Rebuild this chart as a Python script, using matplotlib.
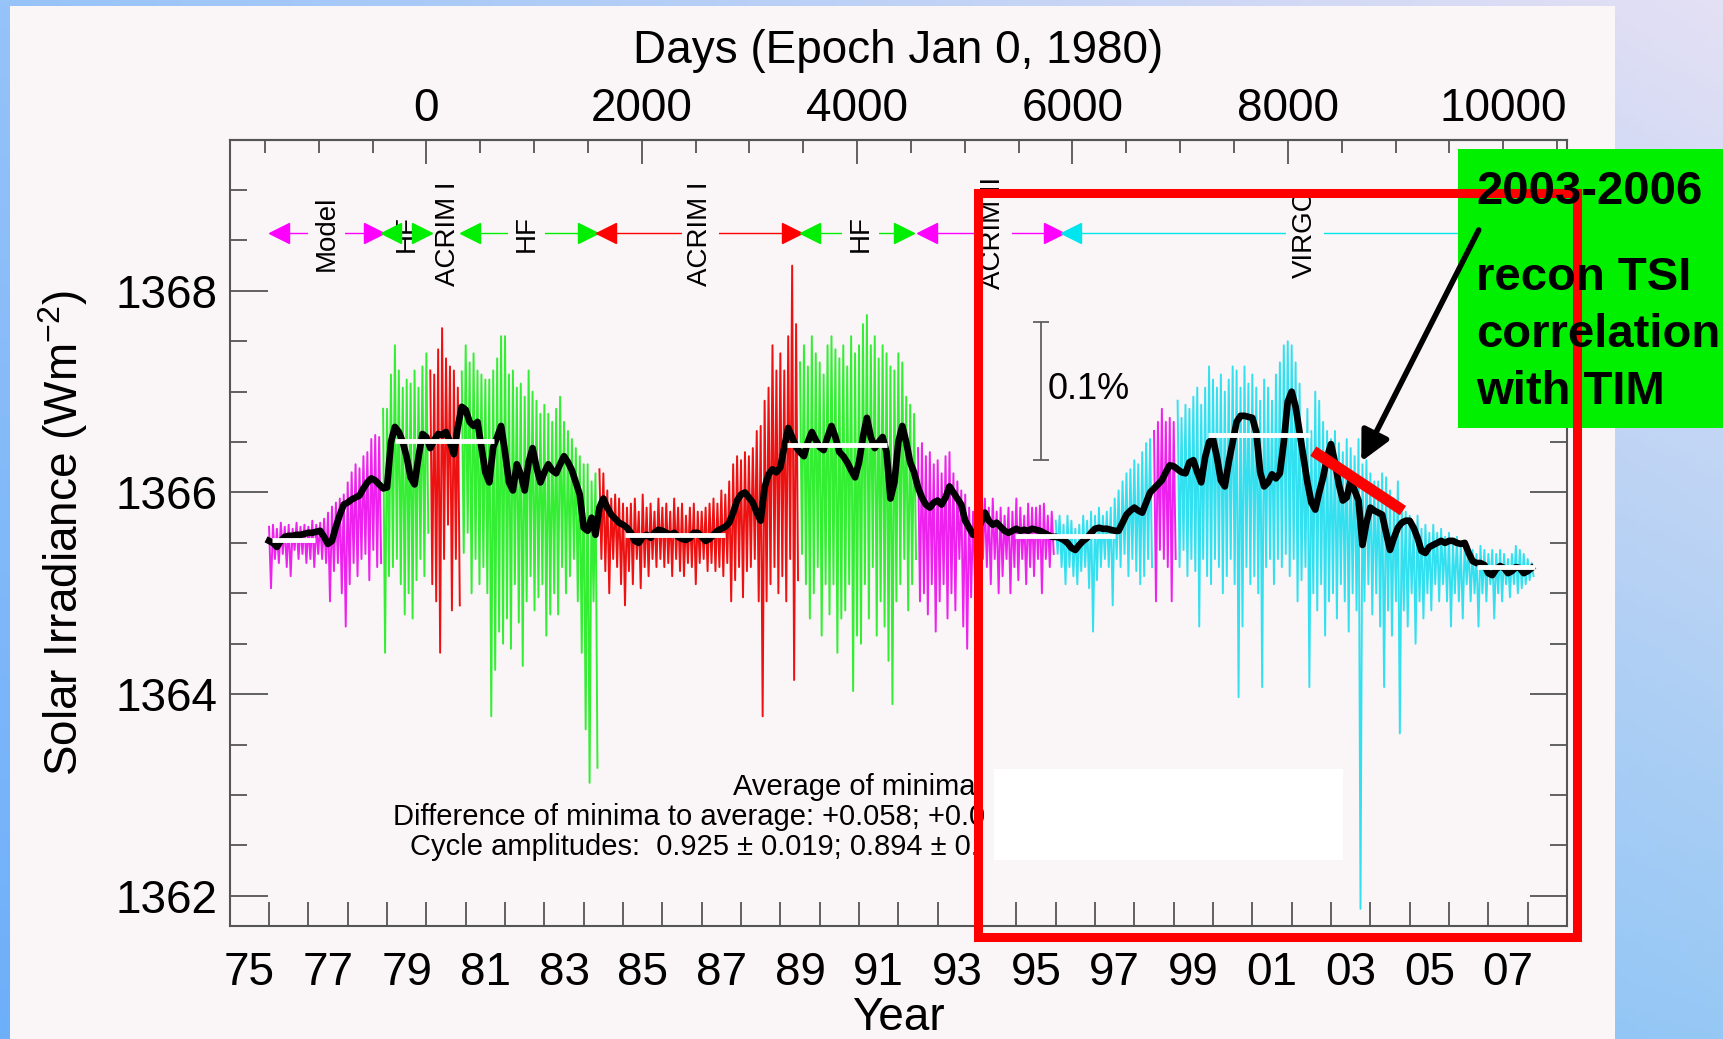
import numpy as np
import matplotlib.pyplot as plt
from matplotlib.patches import Rectangle, FancyArrowPatch

plt.rcParams['font.family'] = ['Liberation Sans', 'DejaVu Sans']
plt.rcParams['mathtext.fontset'] = 'custom'
plt.rcParams['mathtext.rm'] = 'Liberation Sans'
plt.rcParams['mathtext.it'] = 'Liberation Sans:italic'

# --- data (grid: 1976.0 .. 2008.1, step 0.1 yr) ---
first_year = 1976.0
step = 0.1

# upper tips of the daily values
tsi_hi = [
    1365.66, 1365.68, 1365.64, 1365.70, 1365.66, 1365.68, 1365.64, 1365.70, 1365.66, 1365.68,
    1365.66, 1365.72, 1365.68, 1365.70, 1365.74, 1365.80, 1365.86, 1365.90, 1365.94, 1365.98,
    1366.10, 1366.20, 1366.28, 1366.24, 1366.36, 1366.40, 1366.53, 1366.57, 1366.55, 1366.83,
    1366.83, 1367.17, 1367.46, 1367.21, 1367.04, 1367.12, 1367.08, 1367.21, 1367.04, 1367.25,
    1367.38, 1367.21, 1367.17, 1367.42, 1367.63, 1367.33, 1367.25, 1367.21, 1367.04, 1367.20,
    1367.46, 1367.29, 1367.38, 1367.21, 1367.17, 1367.12, 1367.12, 1367.21, 1367.33, 1367.55,
    1367.55, 1367.17, 1367.21, 1367.04, 1367.08, 1366.95, 1367.21, 1367.00, 1366.91, 1366.78,
    1366.87, 1366.78, 1366.70, 1366.83, 1366.95, 1366.70, 1366.61, 1366.53, 1366.44, 1366.36,
    1366.28, 1366.28, 1366.11, 1366.19, 1366.23, 1366.19, 1366.02, 1365.94, 1365.98, 1365.94,
    1365.89, 1365.85, 1365.89, 1365.94, 1365.81, 1365.98, 1365.85, 1365.89, 1365.81, 1365.94,
    1365.85, 1365.89, 1365.81, 1365.94, 1365.85, 1365.89, 1365.77, 1365.85, 1365.89, 1365.81,
    1365.81, 1365.85, 1365.89, 1365.94, 1365.89, 1366.02, 1365.98, 1366.11, 1366.28, 1366.36,
    1366.32, 1366.40, 1366.36, 1366.44, 1366.61, 1366.66, 1366.91, 1367.04, 1367.46, 1367.21,
    1367.38, 1367.21, 1367.55, 1368.25, 1367.67, 1367.29, 1367.46, 1367.25, 1367.55, 1367.38,
    1367.29, 1367.17, 1367.46, 1367.55, 1367.42, 1367.33, 1367.46, 1367.25, 1367.55, 1367.38,
    1367.46, 1367.67, 1367.76, 1367.46, 1367.55, 1367.33, 1367.46, 1367.38, 1367.25, 1367.21,
    1367.38, 1367.29, 1366.95, 1366.87, 1366.78, 1366.44, 1366.49, 1366.36, 1366.40, 1366.28,
    1366.32, 1366.19, 1366.36, 1366.40, 1366.19, 1366.11, 1366.02, 1365.98, 1365.85, 1365.81,
    1365.85, 1365.94, 1365.94, 1365.85, 1365.94, 1365.81, 1365.85, 1365.77, 1365.85, 1365.81,
    1365.94, 1365.85, 1365.77, 1365.89, 1365.85, 1365.85, 1365.87, 1365.89, 1365.77, 1365.81,
    1365.72, 1365.77, 1365.68, 1365.77, 1365.72, 1365.64, 1365.68, 1365.77, 1365.72, 1365.81,
    1365.77, 1365.85, 1365.77, 1365.81, 1365.85, 1365.94, 1366.02, 1366.11, 1366.19, 1366.23,
    1366.32, 1366.28, 1366.40, 1366.49, 1366.53, 1366.61, 1366.70, 1366.83, 1366.70, 1366.74,
    1366.70, 1366.91, 1366.74, 1366.87, 1366.83, 1366.95, 1367.04, 1366.87, 1367.04, 1367.25,
    1367.12, 1367.04, 1367.17, 1367.00, 1367.12, 1367.25, 1367.21, 1367.04, 1367.25, 1367.08,
    1367.17, 1367.04, 1366.91, 1367.12, 1367.04, 1366.91, 1367.17, 1367.29, 1367.46, 1367.50,
    1367.46, 1367.29, 1367.08, 1366.53, 1366.83, 1366.61, 1367.00, 1366.91, 1366.70, 1366.61,
    1366.53, 1366.61, 1366.49, 1366.40, 1366.53, 1366.44, 1366.36, 1366.53, 1366.28, 1366.32,
    1366.19, 1366.11, 1366.11, 1366.19, 1366.15, 1366.02, 1365.94, 1366.11, 1365.85, 1365.81,
    1365.77, 1365.68, 1365.77, 1365.64, 1365.68, 1365.60, 1365.68, 1365.60, 1365.64, 1365.56,
    1365.60, 1365.51, 1365.56, 1365.47, 1365.51, 1365.47, 1365.43, 1365.39, 1365.47, 1365.43,
    1365.39, 1365.43, 1365.39, 1365.43, 1365.39, 1365.34, 1365.39, 1365.47, 1365.43, 1365.39,
    1365.34, 1365.30,
]

# lower tips of the daily values (sunspot dips)
tsi_lo = [
    1365.05, 1365.34, 1365.30, 1365.39, 1365.26, 1365.17, 1365.43, 1365.34, 1365.39, 1365.30,
    1365.34, 1365.26, 1365.39, 1365.34, 1365.30, 1364.92, 1365.22, 1365.30, 1365.00, 1364.67,
    1365.09, 1365.30, 1365.17, 1365.34, 1365.39, 1365.13, 1365.43, 1365.26, 1365.30, 1364.41,
    1365.17, 1365.26, 1365.34, 1365.09, 1364.79, 1365.00, 1364.75, 1365.13, 1365.34, 1365.17,
    1365.60, 1365.09, 1364.92, 1364.41, 1365.34, 1365.68, 1364.83, 1365.34, 1364.88, 1365.40,
    1365.60, 1365.00, 1365.34, 1365.09, 1365.26, 1365.00, 1363.78, 1364.24, 1364.62, 1364.50,
    1364.75, 1364.45, 1365.09, 1364.71, 1364.28, 1364.92, 1365.17, 1364.83, 1364.96, 1365.09,
    1364.58, 1364.79, 1365.00, 1364.79, 1365.26, 1365.00, 1365.17, 1365.34, 1364.92, 1364.41,
    1363.65, 1363.12, 1364.92, 1363.27, 1365.34, 1365.22, 1365.00, 1365.34, 1365.26, 1365.09,
    1364.88, 1365.22, 1365.09, 1365.34, 1365.05, 1365.26, 1365.17, 1365.34, 1365.26, 1365.34,
    1365.26, 1365.30, 1365.17, 1365.34, 1365.22, 1365.17, 1365.30, 1365.26, 1365.09, 1365.30,
    1365.34, 1365.22, 1365.30, 1365.22, 1365.26, 1365.17, 1365.30, 1364.92, 1365.13, 1365.26,
    1364.96, 1365.22, 1365.26, 1365.34, 1364.92, 1363.78, 1364.92, 1365.09, 1365.26, 1365.00,
    1365.17, 1364.92, 1365.34, 1364.14, 1365.13, 1365.39, 1365.09, 1364.75, 1365.00, 1365.26,
    1364.58, 1365.09, 1364.79, 1365.09, 1364.41, 1364.75, 1364.83, 1365.09, 1364.03, 1364.58,
    1364.50, 1365.09, 1364.75, 1365.26, 1364.58, 1364.92, 1364.67, 1364.33, 1363.90, 1364.92,
    1365.09, 1365.34, 1364.83, 1365.09, 1365.34, 1364.92, 1365.00, 1364.79, 1365.09, 1364.62,
    1364.92, 1365.09, 1364.75, 1365.00, 1364.83, 1365.34, 1364.67, 1364.45, 1364.96, 1365.09,
    1364.92, 1365.34, 1365.26, 1365.09, 1365.34, 1365.00, 1365.17, 1365.34, 1365.00, 1365.26,
    1365.13, 1365.34, 1365.09, 1365.26, 1365.17, 1365.34, 1365.00, 1365.34, 1365.26, 1365.39,
    1365.39, 1365.26, 1365.09, 1365.26, 1365.17, 1365.09, 1365.22, 1365.26, 1365.05, 1364.62,
    1365.13, 1365.26, 1365.34, 1365.26, 1364.88, 1365.34, 1365.26, 1365.39, 1365.17, 1365.34,
    1365.22, 1365.09, 1365.17, 1365.34, 1365.26, 1364.92, 1365.43, 1365.34, 1365.26, 1364.92,
    1365.34, 1365.26, 1365.43, 1365.17, 1365.34, 1365.22, 1364.67, 1365.34, 1365.17, 1365.09,
    1365.34, 1365.26, 1365.00, 1365.17, 1365.34, 1365.09, 1363.97, 1364.67, 1365.26, 1365.09,
    1365.17, 1365.00, 1364.07, 1365.26, 1365.34, 1365.09, 1365.34, 1365.26, 1365.39, 1365.17,
    1365.34, 1364.92, 1365.13, 1365.26, 1364.07, 1365.00, 1364.83, 1365.09, 1364.58, 1364.92,
    1365.00, 1364.75, 1365.09, 1364.92, 1364.62, 1365.00, 1364.83, 1361.87, 1364.92, 1365.09,
    1364.79, 1365.00, 1364.67, 1364.07, 1364.83, 1364.58, 1364.92, 1363.61, 1364.83, 1364.67,
    1365.00, 1364.50, 1364.92, 1364.75, 1365.00, 1364.83, 1365.09, 1364.92, 1365.09, 1364.92,
    1364.67, 1365.00, 1364.92, 1364.75, 1365.09, 1364.92, 1365.00, 1364.67, 1365.00, 1364.92,
    1365.09, 1364.75, 1365.00, 1364.92, 1365.09, 1364.96, 1365.09, 1365.00, 1365.05, 1365.09,
    1365.13, 1365.17,
]

# smoothed composite (black curve)
tsi_smooth = [
    1365.52, 1365.50, 1365.46, 1365.52, 1365.56, 1365.57, 1365.57, 1365.58, 1365.58, 1365.59,
    1365.60, 1365.60, 1365.61, 1365.62, 1365.56, 1365.49, 1365.52, 1365.66, 1365.78, 1365.88,
    1365.90, 1365.93, 1365.95, 1365.97, 1366.04, 1366.10, 1366.14, 1366.12, 1366.08, 1366.04,
    1366.05, 1366.50, 1366.65, 1366.60, 1366.50, 1366.35, 1366.15, 1366.08, 1366.35, 1366.58,
    1366.55, 1366.44, 1366.52, 1366.58, 1366.57, 1366.60, 1366.50, 1366.38, 1366.65, 1366.85,
    1366.82, 1366.70, 1366.66, 1366.70, 1366.45, 1366.20, 1366.10, 1366.45, 1366.55, 1366.66,
    1366.40, 1366.10, 1366.02, 1366.28, 1366.18, 1366.02, 1366.30, 1366.44, 1366.25, 1366.10,
    1366.20, 1366.28, 1366.22, 1366.19, 1366.28, 1366.36, 1366.30, 1366.22, 1366.10, 1365.98,
    1365.65, 1365.62, 1365.75, 1365.58, 1365.85, 1365.94, 1365.85, 1365.78, 1365.74, 1365.70,
    1365.68, 1365.65, 1365.60, 1365.52, 1365.50, 1365.56, 1365.58, 1365.55, 1365.60, 1365.63,
    1365.62, 1365.60, 1365.58, 1365.60, 1365.56, 1365.54, 1365.53, 1365.55, 1365.60, 1365.60,
    1365.56, 1365.52, 1365.54, 1365.58, 1365.62, 1365.64, 1365.66, 1365.70, 1365.80, 1365.92,
    1365.98, 1366.00, 1365.95, 1365.90, 1365.80, 1365.72, 1366.05, 1366.18, 1366.23, 1366.20,
    1366.25, 1366.45, 1366.64, 1366.55, 1366.45, 1366.40, 1366.36, 1366.50, 1366.60, 1366.52,
    1366.45, 1366.42, 1366.55, 1366.66, 1366.55, 1366.40, 1366.36, 1366.30, 1366.22, 1366.15,
    1366.30, 1366.55, 1366.74, 1366.55, 1366.44, 1366.50, 1366.55, 1366.40, 1365.94, 1366.10,
    1366.50, 1366.66, 1366.50, 1366.30, 1366.20, 1366.05, 1365.95, 1365.88, 1365.85, 1365.90,
    1365.92, 1365.88, 1365.95, 1366.06, 1366.00, 1365.94, 1365.88, 1365.72, 1365.65, 1365.58,
    1365.60, 1365.70, 1365.80, 1365.72, 1365.68, 1365.70, 1365.66, 1365.62, 1365.60, 1365.62,
    1365.64, 1365.62, 1365.63, 1365.62, 1365.64, 1365.63, 1365.62, 1365.60, 1365.58, 1365.56,
    1365.56, 1365.55, 1365.53, 1365.50, 1365.45, 1365.43, 1365.48, 1365.52, 1365.55, 1365.60,
    1365.64, 1365.65, 1365.64, 1365.64, 1365.63, 1365.62, 1365.62, 1365.70, 1365.78, 1365.82,
    1365.85, 1365.82, 1365.80, 1365.90, 1366.00, 1366.04, 1366.08, 1366.12, 1366.20, 1366.27,
    1366.26, 1366.23, 1366.20, 1366.19, 1366.30, 1366.32, 1366.20, 1366.10, 1366.35, 1366.50,
    1366.53, 1366.35, 1366.12, 1366.06, 1366.30, 1366.50, 1366.70, 1366.76, 1366.76, 1366.75,
    1366.74, 1366.60, 1366.20, 1366.06, 1366.10, 1366.18, 1366.14, 1366.19, 1366.50, 1366.90,
    1367.00, 1366.85, 1366.60, 1366.35, 1366.10, 1365.90, 1365.83, 1366.00, 1366.15, 1366.35,
    1366.48, 1366.30, 1366.08, 1365.92, 1365.95, 1366.12, 1366.02, 1365.92, 1365.48, 1365.70,
    1365.85, 1365.82, 1365.80, 1365.78, 1365.60, 1365.43, 1365.55, 1365.65, 1365.70, 1365.72,
    1365.72, 1365.65, 1365.55, 1365.42, 1365.40, 1365.46, 1365.48, 1365.50, 1365.52, 1365.50,
    1365.52, 1365.52, 1365.50, 1365.49, 1365.50, 1365.40, 1365.32, 1365.30, 1365.30, 1365.28,
    1365.20, 1365.18, 1365.24, 1365.27, 1365.25, 1365.20, 1365.22, 1365.26, 1365.25, 1365.20,
    1365.22, 1365.25,
]

# instrument segments of the composite
segment_start = [1976.0, 1978.9, 1980.1, 1980.9, 1984.4, 1989.5, 1992.5, 1996.0, 1998.5, 1999.1]
segment_color = ['#ee22ee', '#33ee33', '#ee1111', '#33ee33', '#ee1111',
                 '#33ee33', '#ee22ee', '#33e0f0', '#ee22ee', '#33e0f0']

# white levels of minima / maxima
level_start = [1976.07, 1979.20, 1985.05, 1989.16, 1994.97, 1999.88, 2006.70]
level_end = [1977.17, 1981.73, 1987.60, 1991.70, 1997.50, 2002.47, 2008.19]
level_value = [1365.53, 1366.51, 1365.58, 1366.47, 1365.57, 1366.57, 1365.26]

# instrument bar at the top
inst_row = 1368.57
inst_marker_year = [1976.25, 1978.66, 1979.10, 1979.89, 1981.11, 1984.10, 1984.56,
                    1989.29, 1989.75, 1992.14, 1992.73, 1995.97, 1996.38, 2008.30]
inst_marker_color = ['#ff00ff', '#ff00ff', '#00ee00', '#00ee00', '#00ee00', '#00ee00', '#ff0000',
                     '#ff0000', '#00ee00', '#00ee00', '#ff00ff', '#ff00ff', '#00e5ee', '#00e5ee']
inst_label_year = [1977.46, 1979.50, 1980.54, 1982.55, 1986.96, 1991.04, 1994.41, 2002.34]
inst_label = ['Model', 'HF', 'ACRIM I', 'HF', 'ACRIM I', 'HF', 'ACRIM II', 'VIRGO']

# red trend stroke 2003-2006
trend_year = [2002.55, 2004.83]
trend_value = [1366.41, 1365.82]

year_ticks = list(range(1975, 2010))
year_label_pos = [1975.5 + 2 * k for k in range(17)]
year_labels = ['75', '77', '79', '81', '83', '85', '87', '89', '91', '93',
               '95', '97', '99', '01', '03', '05', '07']
day_ticks = [0, 2000, 4000, 6000, 8000, 10000]

W, H = 1723, 1039
fig = plt.figure(figsize=(W / 100, H / 100), dpi=100)

# gradient backdrop + light panel
bg = fig.add_axes([0, 0, 1, 1], zorder=-1)
bg.axis('off')
u = np.linspace(0, 1, 200)[None, :, None]
v = np.linspace(0, 1, 200)[:, None, None]
tl, tr = np.array([150, 195, 248]), np.array([228, 224, 244])
bl, br = np.array([110, 175, 250]), np.array([150, 200, 245])
grad = (1 - u) * (1 - v) * tl + u * (1 - v) * tr + (1 - u) * v * bl + u * v * br
bg.imshow(grad / 255, extent=(0, 1, 0, 1), origin='upper', aspect='auto')
bg.add_patch(Rectangle((10 / W, 0), 1605 / W, 1033 / H, transform=bg.transAxes,
                       facecolor='#faf6f7', edgecolor='none'))
bg.set_xlim(0, 1)
bg.set_ylim(0, 1)

ax = fig.add_axes([229.7 / W, 1 - 926 / H, 1337.3 / W, 786.4 / H])
ax.set_facecolor('none')
ax.set_xlim(1975, 2009)
ax.set_ylim(1361.7, 1369.5)

t = first_year + step * np.arange(len(tsi_hi))
hi = np.array(tsi_hi)
lo = np.array(tsi_lo)
bounds = segment_start + [t[-1] + 1]
for k, col in enumerate(segment_color):
    sel = np.where((t >= bounds[k] - 1e-6) & (t < bounds[k + 1] - 1e-6))[0]
    xs = np.empty(2 * len(sel))
    ys = np.empty(2 * len(sel))
    xs[0::2], xs[1::2] = t[sel], t[sel] + step / 2
    ys[0::2], ys[1::2] = hi[sel], lo[sel]
    ax.plot(xs, ys, color=col, lw=1.4, zorder=2)

ax.plot(t, tsi_smooth, color='black', lw=4.8, solid_joinstyle='round', zorder=3)
ax.hlines(level_value, level_start, level_end, color='white', lw=3.5, zorder=4)

# instrument row
for a in range(0, len(inst_marker_year), 2):
    ax.plot(inst_marker_year[a:a + 2], [inst_row] * 2, color=inst_marker_color[a], lw=1, zorder=3)
for x, s in zip(inst_label_year, inst_label):
    ax.text(x, inst_row, s, rotation=90, ha='center', va='center', fontsize=20, zorder=4,
            bbox=dict(facecolor='#faf6f7', edgecolor='none', pad=4))
for k, (x, c) in enumerate(zip(inst_marker_year, inst_marker_color)):
    ax.plot(x, inst_row, marker='<' if k % 2 == 0 else '>', ms=14, color=c, mec=c, zorder=5)

# 0.1 % scale bar
ax.errorbar(1995.62, 1367.005, yerr=0.685, color='#555555', lw=1.2, capsize=6, capthick=1.2)
ax.text(1995.79, 1367.02, '0.1%', fontsize=26, ha='left', va='center')

ax.plot(trend_year, trend_value, color='#ff0000', lw=8, solid_capstyle='butt', zorder=6)

ax.text(1993.97, 1363.08, 'Average of minima', fontsize=21, ha='right', va='center')
ax.text(1979.16, 1362.78, 'Difference of minima to average: +0.058; +0.0', fontsize=21,
        ha='left', va='center')
ax.text(1979.58, 1362.48, 'Cycle amplitudes:  0.925 \u00b1 0.019; 0.894 \u00b1 0.', fontsize=21,
        ha='left', va='center')

# axes styling
spine_col = '#555555'
for sp in ax.spines.values():
    sp.set_color(spine_col)
    sp.set_linewidth(1.5)
ax.set_yticks([1362, 1364, 1366, 1368])
ax.set_yticks(np.arange(1362, 1369.4, 0.5), minor=True)
ax.tick_params(axis='y', which='major', direction='in', length=27, width=1.3, color=spine_col,
               left=True, right=True, labelsize=33, pad=9)
ax.tick_params(axis='y', which='minor', direction='in', length=12, width=1.3, color=spine_col,
               left=True, right=True)
ax.set_xticks(year_ticks)
ax.set_xticklabels([])
ax.set_xticks(year_label_pos, labels=year_labels, minor=True)
ax.tick_params(axis='x', which='major', direction='in', length=17, width=1.3, color=spine_col,
               bottom=True, top=False)
ax.tick_params(axis='x', which='minor', length=0, labelsize=33, pad=18)
ax.set_xlabel('Year', fontsize=33, labelpad=1)
ax.set_ylabel('Solar Irradiance (Wm$^{-2}$)', fontsize=33, labelpad=18)


def year_to_day(y):
    return (y - 1980.0) * 365.25


def day_to_year(d):
    return d / 365.25 + 1980.0


sec = ax.secondary_xaxis('top', functions=(year_to_day, day_to_year))
sec.set_xticks(day_ticks)
sec.set_xticks(np.arange(-1500, 10600, 500), minor=True)
sec.tick_params(which='major', direction='in', length=17, width=1.3, color=spine_col,
                labelsize=33, pad=6.5)
sec.tick_params(which='minor', direction='in', length=9, width=1.3, color=spine_col)
sec.spines['top'].set_color(spine_col)
sec.spines['top'].set_linewidth(1.5)
sec.set_xlabel('Days (Epoch Jan 0, 1980)', fontsize=33, labelpad=17)

# overlays drawn on the slide
fig.add_artist(Rectangle((994 / W, 1 - 860 / H), 349 / W, 91 / H, transform=fig.transFigure,
                         facecolor='white', edgecolor='none', zorder=2))
fig.add_artist(Rectangle((1458 / W, 1 - 428 / H), 265 / W, 279 / H, transform=fig.transFigure,
                         facecolor='#00f000', edgecolor='none', zorder=3))
fig.add_artist(Rectangle((978 / W, 1 - 937 / H), 599 / W, 744 / H, transform=fig.transFigure,
                         facecolor='none', edgecolor='#ff0000', lw=6.5, zorder=4))
fig.add_artist(FancyArrowPatch((1480 / W, 1 - 227.5 / H), (1360 / W, 1 - 464 / H),
                               transform=fig.transFigure, color='black', lw=4,
                               arrowstyle='-|>,head_length=0.6,head_width=0.3',
                               mutation_scale=30, zorder=5))
for y, s in zip([192, 278, 335, 392], ['2003-2006', 'recon TSI', 'correlation', 'with TIM']):
    fig.text(1476 / W, 1 - y / H, s, fontsize=34, fontweight='bold', ha='left', va='center',
             zorder=6)

fig.savefig('out.png', dpi=100)
